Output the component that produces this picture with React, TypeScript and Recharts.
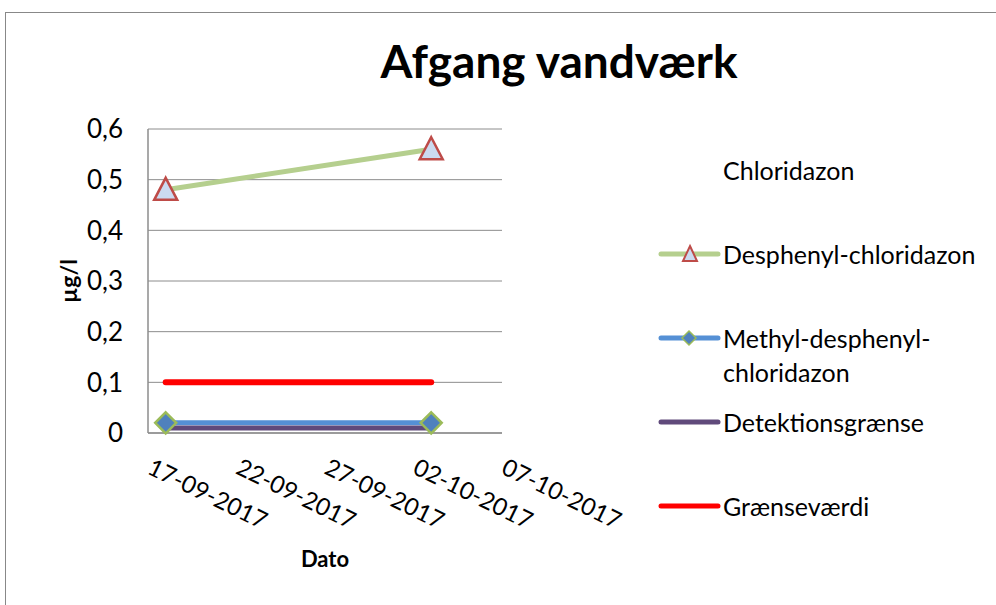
import React from 'react';
import { LineChart, Line, XAxis, YAxis, CartesianGrid, Legend } from 'recharts';

// sample dates (dd-mm-yyyy) and measured values in µg/l
const sampleDates = ['18-09-2017', '03-10-2017'];
const chloridazon: (number | null)[] = [null, null];
const desphenylChloridazon = [0.48, 0.56];
const methylDesphenylChloridazon = [0.02, 0.02];
const detektionsgraense = [0.01, 0.01];
const graensevaerdi = [0.1, 0.1];

const xTickLabels = ['17-09-2017', '22-09-2017', '27-09-2017', '02-10-2017', '07-10-2017'];
const yTicks = [0, 0.1, 0.2, 0.3, 0.4, 0.5, 0.6];

// legend keeps the series order, not alphabetical
const seriesOrder = ['chloridazon', 'desphenyl', 'methyl', 'detektion', 'graense'];

const FONT = 'Lato, "Open Sans", sans-serif';
const GRID = '#8c8c8c';

const toTime = (s: string) => {
  const [d, m, y] = s.split('-').map(Number);
  return Date.UTC(y, m - 1, d);
};

const xTicks = xTickLabels.map(toTime);

const data = sampleDates.map((d, i) => ({
  t: toTime(d),
  chloridazon: chloridazon[i],
  desphenyl: desphenylChloridazon[i],
  methyl: methylDesphenylChloridazon[i],
  detektion: detektionsgraense[i],
  graense: graensevaerdi[i],
}));

const fmtY = (v: number) => (v === 0 ? '0' : v.toFixed(1).replace('.', ','));

const DateTick = (props: any) => {
  const { x, y, payload } = props;
  const label = xTickLabels[xTicks.indexOf(payload.value)] ?? '';
  const ax = x - 2;
  const ay = y + 40;
  return (
    <text x={ax} y={ay} transform={`rotate(26, ${ax}, ${ay})`} textAnchor="start"
      fill="#000" fontSize={24} fontFamily={FONT}>
      {label}
    </text>
  );
};

const TriangleDot = (props: any) => {
  const { cx, cy } = props;
  if (cx == null || cy == null) return null;
  const pts = `${cx},${cy - 12} ${cx + 11.5},${cy + 10} ${cx - 11.5},${cy + 10}`;
  return <polygon points={pts} fill="#cbdaf0" stroke="#be4b48" strokeWidth={2.5} />;
};

const DiamondDot = (props: any) => {
  const { cx, cy } = props;
  if (cx == null || cy == null) return null;
  const s = 10.5;
  const pts = `${cx},${cy - s} ${cx + s},${cy} ${cx},${cy + s} ${cx - s},${cy}`;
  return <polygon points={pts} fill="#4f81bd" stroke="#9bbb59" strokeWidth={2.5} />;
};

const legendIcon = (key: string) => {
  const line = (color: string) => (
    <line x1={3} y1={17} x2={60} y2={17} stroke={color} strokeWidth={5} strokeLinecap="round" />
  );
  if (key === 'desphenyl') {
    return (
      <>
        {line('#b5cf8e')}
        <polygon points="32,9 39,24 25,24" fill="#cbdaf0" stroke="#be4b48" strokeWidth={2} />
      </>
    );
  }
  if (key === 'methyl') {
    return (
      <>
        {line('#5590d5')}
        <polygon points="31,10 38,17 31,24 24,17" fill="#4f81bd" stroke="#9bbb59" strokeWidth={1.5} />
      </>
    );
  }
  if (key === 'detektion') return line('#604a7b');
  if (key === 'graense') return line('#ff0000');
  return null;
};

const renderLegend = (props: any) => {
  const items = [...(props.payload ?? [])].sort(
    (a: any, b: any) => seriesOrder.indexOf(a.dataKey) - seriesOrder.indexOf(b.dataKey)
  );
  return (
    <div style={{ fontFamily: FONT, fontSize: 25, color: '#000' }}>
      {items.map((entry: any) => (
        <div key={entry.value} style={{ display: 'flex', alignItems: 'flex-start', height: 84 }}>
          <svg width={65} height={34} style={{ flex: 'none' }}>{legendIcon(entry.dataKey)}</svg>
          <div style={{ width: 268, lineHeight: '34px' }}>{entry.value}</div>
        </div>
      ))}
    </div>
  );
};

const YLabel = (props: any) => {
  const { viewBox } = props;
  const cx = viewBox.x + 20;
  const cy = viewBox.y + viewBox.height / 2;
  return (
    <text x={cx} y={cy} transform={`rotate(-90, ${cx}, ${cy})`} textAnchor="middle" dominantBaseline="central"
      fontSize={23} fontWeight="bold" fontFamily={FONT} fill="#000">
      µg/l
    </text>
  );
};

export default function App() {
  return (
    <div style={{ position: 'relative', width: 996, height: 605, overflow: 'hidden', background: '#fff', fontFamily: FONT }}>
      <style>{'body{margin:0;}'}</style>
      <div style={{ position: 'absolute', left: 5, top: 12, width: 1100, height: 700, border: '1px solid #888', boxSizing: 'border-box' }} />
      <div style={{ position: 'absolute', left: 0, width: 1118, top: 33, textAlign: 'center', fontSize: 46, fontWeight: 'bold', lineHeight: '56px' }}>
        Afgang vandværk
      </div>
      <LineChart width={996} height={605} data={data} margin={{ top: 129, right: 494, bottom: 32, left: 48 }}>
        <CartesianGrid vertical={false} stroke={GRID} strokeWidth={1} />
        <XAxis
          dataKey="t"
          type="number"
          domain={[xTicks[0], xTicks[xTicks.length - 1]]}
          ticks={xTicks}
          tick={<DateTick />}
          tickLine={false}
          tickSize={0}
          tickMargin={0}
          axisLine={{ stroke: GRID, strokeWidth: 1.5 }}
          height={140}
          interval={0}
          label={{ value: 'Dato', position: 'insideBottom', offset: 6, fontSize: 22, fontWeight: 'bold', fontFamily: FONT, fill: '#000' }}
        />
        <YAxis
          type="number"
          domain={[0, 0.6]}
          ticks={yTicks}
          tickFormatter={fmtY}
          tickLine={false}
          tickSize={0}
          tickMargin={25}
          axisLine={{ stroke: GRID, strokeWidth: 1.5 }}
          tick={{ fontSize: 26, fill: '#000', fontFamily: FONT }}
          width={100}
          label={<YLabel />}
        />
        <Legend
          layout="vertical"
          align="center"
          verticalAlign="middle"
          content={renderLegend}
          wrapperStyle={{ left: 658, top: 153, width: 335 }}
        />
        <Line dataKey="chloridazon" name="Chloridazon" stroke="none" dot={false} isAnimationActive={false} />
        <Line dataKey="desphenyl" name="Desphenyl-chloridazon" stroke="#b5cf8e" strokeWidth={5} dot={<TriangleDot />} activeDot={false} isAnimationActive={false} />
        <Line dataKey="methyl" name="Methyl-desphenyl-chloridazon" stroke="#5590d5" strokeWidth={5} dot={<DiamondDot />} activeDot={false} isAnimationActive={false} />
        <Line dataKey="detektion" name="Detektionsgrænse" stroke="#604a7b" strokeWidth={5} strokeLinecap="round" dot={false} activeDot={false} isAnimationActive={false} />
        <Line dataKey="graense" name="Grænseværdi" stroke="#ff0000" strokeWidth={6} strokeLinecap="round" dot={false} activeDot={false} isAnimationActive={false} />
      </LineChart>
    </div>
  );
}
